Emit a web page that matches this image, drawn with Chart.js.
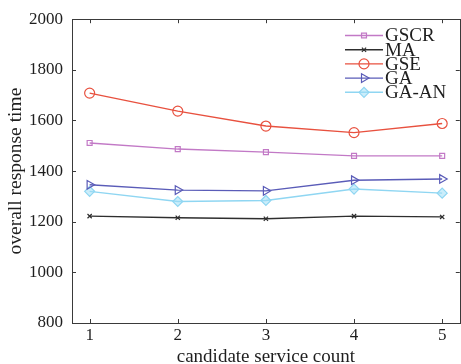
<!DOCTYPE html>
<html>
<head>
<meta charset="utf-8">
<script src="https://cdn.jsdelivr.net/npm/chart.js@4.4.1/dist/chart.umd.min.js"></script>
<style>
  html, body { margin: 0; padding: 0; background: #ffffff; overflow: hidden; }
  #wrap { width: 466px; height: 368px; }
</style>
</head>
<body>
<div id="wrap"><canvas id="c" width="466" height="368"></canvas></div>
<script>
// Candidate service count on the x axis
const categories = [1, 2, 3, 4, 5];
const yTicks = [800, 1000, 1200, 1400, 1600, 1800, 2000];

// Overall response time per algorithm
const gscr = [1511, 1487, 1475, 1460, 1460];
const ma   = [1222, 1216, 1212, 1222, 1219];
const gse  = [1708, 1637, 1578, 1552, 1588];
const ga   = [1346, 1325, 1322, 1364, 1369];
const gaAn = [1320, 1280, 1284, 1329, 1313];

const FONT = '"Liberation Serif", "DejaVu Serif", serif';
const TEXT = '#1e1e1e';

function series(label, values, color, style, radius, extra) {
  return Object.assign({
    label: label,
    data: categories.map((c, i) => ({ x: c, y: values[i] })),
    borderColor: color,
    backgroundColor: 'rgba(255,255,255,0)',
    pointBorderColor: color,
    pointBackgroundColor: 'rgba(255,255,255,0)',
    borderWidth: 1.4,
    pointBorderWidth: 1.2,
    pointStyle: style,
    pointRadius: radius,
    tension: 0
  }, extra || {});
}

const datasets = [
  series('GSCR', gscr, '#c279c6', 'rect', 3.5),
  series('MA', ma, '#2e2e2e', 'crossRot', 3),
  series('GSE', gse, '#e8513f', 'circle', 5),
  series('GA', ga, '#5a5cb8', 'triangle', 5, { pointRotation: 90 }),
  series('GA-AN', gaAn, '#8fd6f2', 'rectRot', 5, { pointBackgroundColor: 'rgba(160,222,246,0.55)' })
];

// Box frame, inward tick marks and the legend block
const framePlugin = {
  id: 'frame',
  afterDatasetsDraw(chart) {
    const { ctx, chartArea: a, scales } = chart;
    ctx.save();
    ctx.strokeStyle = '#3a3a3a';
    ctx.lineWidth = 1;
    ctx.strokeRect(Math.round(a.left) + 0.5, Math.round(a.top) + 0.5,
                   Math.round(a.right - a.left), Math.round(a.bottom - a.top));
    const t = 4;
    ctx.beginPath();
    categories.forEach(v => {
      const x = Math.round(scales.x.getPixelForValue(v)) + 0.5;
      ctx.moveTo(x, a.bottom); ctx.lineTo(x, a.bottom - t);
      ctx.moveTo(x, a.top); ctx.lineTo(x, a.top + t);
    });
    yTicks.forEach(v => {
      const y = Math.round(scales.y.getPixelForValue(v)) + 0.5;
      ctx.moveTo(a.left, y); ctx.lineTo(a.left + t, y);
      ctx.moveTo(a.right, y); ctx.lineTo(a.right - t, y);
    });
    ctx.stroke();

    // legend
    const lx0 = 345, lx1 = 383, ly0 = 35.5, step = 14.2;
    ctx.font = '19px ' + FONT;
    ctx.textBaseline = 'middle';
    ctx.textAlign = 'left';
    chart.data.datasets.forEach((ds, i) => {
      const y = ly0 + i * step;
      ctx.strokeStyle = ds.borderColor;
      ctx.lineWidth = ds.borderWidth;
      ctx.beginPath(); ctx.moveTo(lx0, y); ctx.lineTo(lx1, y); ctx.stroke();
      ctx.fillStyle = ds.pointBackgroundColor;
      ctx.strokeStyle = ds.pointBorderColor;
      ctx.lineWidth = ds.pointBorderWidth;
      Chart.helpers.drawPoint(ctx, {
        pointStyle: ds.pointStyle,
        rotation: ds.pointRotation || 0,
        radius: ds.pointRadius,
        borderWidth: ds.pointBorderWidth
      }, (lx0 + lx1) / 2, y);
      ctx.fillStyle = TEXT;
      ctx.fillText(ds.label, lx1 + 2, y + 1);
    });
    ctx.restore();
  }
};

new Chart(document.getElementById('c'), {
  type: 'line',
  data: { datasets: datasets },
  plugins: [framePlugin],
  options: {
    responsive: false,
    animation: false,
    layout: { padding: { top: 17, right: 2, left: 0, bottom: 0 } },
    plugins: { legend: { display: false }, tooltip: { enabled: false } },
    scales: {
      x: {
        type: 'linear',
        min: 0.8,
        max: 5.2,
        afterFit(s) { s.height = 45; },
        afterBuildTicks(s) { s.ticks = categories.map(v => ({ value: v })); },
        grid: { display: false, drawTicks: false },
        border: { display: false },
        ticks: {
          color: TEXT, font: { family: FONT, size: 17 }, padding: 2,
          callback: v => String(v)
        },
        title: {
          display: true,
          text: 'candidate service count',
          color: TEXT,
          font: { family: FONT, size: 19 },
          padding: { top: 0, bottom: 0 }
        }
      },
      y: {
        min: 800,
        max: 2000,
        afterFit(s) { s.width = 72; },
        afterBuildTicks(s) { s.ticks = yTicks.map(v => ({ value: v })); },
        grid: { display: false, drawTicks: false },
        border: { display: false },
        ticks: {
          color: TEXT, font: { family: FONT, size: 17 }, padding: 9,
          callback: v => String(v)
        },
        title: {
          display: true,
          text: 'overall response time',
          color: TEXT,
          font: { family: FONT, size: 19.5 },
          padding: { top: 4, bottom: 0 }
        }
      }
    }
  }
});
</script>
</body>
</html>
